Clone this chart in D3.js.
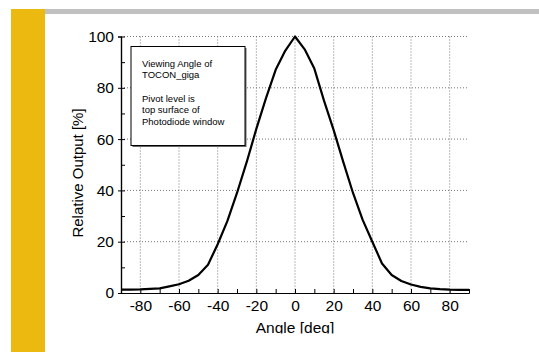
<!DOCTYPE html>
<html>
<head>
<meta charset="utf-8">
<script src="https://cdn.jsdelivr.net/npm/d3@7"></script>
<style>
  body { margin: 0; background: #fff; }
  svg { display: block; font-family: "Liberation Sans", Arial, sans-serif; }
</style>
</head>
<body>
<svg width="539" height="352"></svg>
<script>
// angle in degrees, relative output in %
let angles = [-90, -85, -80, -75, -70, -65, -60, -55, -50, -45, -40, -35, -30, -25, -20, -15, -10, -5,
              0, 5, 10, 15, 20, 25, 30, 35, 40, 45, 50, 55, 60, 65, 70, 75, 80, 85, 90];
let outputs = [1.3, 1.3, 1.4, 1.6, 1.8, 2.6, 3.4, 4.8, 7, 11, 19, 28, 39, 51, 64, 76, 87, 94.5,
               100, 95, 87.5, 75, 63.5, 51, 39, 28.5, 20, 11.5, 7, 4.7, 3.3, 2.4, 1.8, 1.5, 1.3, 1.2, 1.2];
let xTicks = [-80, -60, -40, -20, 0, 20, 40, 60, 80];
let yTicks = [0, 20, 40, 60, 80, 100];
let noteLines = ["Viewing Angle of", "TOCON_giga", "", "Pivot level is", "top surface of", "Photodiode window"];

let data = angles.map((a, i) => ({angle: a, value: outputs[i]}));

let margin = {top: 36.5, left: 121, right: 70, bottom: 59};
let width = 539 - margin.left - margin.right;
let height = 352 - margin.top - margin.bottom;

let svg = d3.select("svg");

// slide decoration
svg.append("rect").attr("x", 11).attr("y", 9).attr("width", 34).attr("height", 343).attr("fill", "#ebb910");
svg.append("rect").attr("x", 45).attr("y", 9).attr("width", 494).attr("height", 5).attr("fill", "#c0c0c0");

let xScale = d3.scaleLinear().domain([-90, 90]).range([0, width]);
let yScale = d3.scaleLinear().domain([0, 100]).range([height, 0]);

let g = svg.append("g").attr("transform", `translate(${margin.left}, ${margin.top})`);

// dotted grid
g.selectAll(".vgrid").data(xTicks).enter().append("line")
  .attr("x1", d => xScale(d)).attr("x2", d => xScale(d))
  .attr("y1", 0).attr("y2", height)
  .attr("stroke", "#777").attr("stroke-width", 1).attr("stroke-dasharray", "1,2");
g.selectAll(".hgrid").data(yTicks.filter(d => d > 0)).enter().append("line")
  .attr("x1", 0).attr("x2", width)
  .attr("y1", d => yScale(d)).attr("y2", d => yScale(d))
  .attr("stroke", "#777").attr("stroke-width", 1).attr("stroke-dasharray", "1,2");

// plain hyphen for negatives, like the original
let fmt = d => String(d);

// axes: minor ticks inside every 10
let xAxis = g.append("g").attr("transform", `translate(0, ${height})`)
  .call(d3.axisBottom(xScale).tickValues(d3.range(-90, 91, 10)).tickSizeInner(-4).tickSizeOuter(0).tickFormat(""));
xAxis.append("g").call(d3.axisBottom(xScale).tickValues(xTicks).tickSize(0).tickPadding(7).tickFormat(fmt));
let yAxis = g.append("g")
  .call(d3.axisLeft(yScale).tickValues(d3.range(0, 101, 10)).tickSizeInner(-4).tickSizeOuter(0).tickFormat(""));
yAxis.append("g").call(d3.axisLeft(yScale).tickValues(yTicks).tickSize(3).tickPadding(4).tickFormat(fmt));

svg.selectAll(".tick text").attr("font-size", 15.5).attr("fill", "#000").attr("font-family", "Liberation Sans, Arial, sans-serif");
svg.selectAll(".domain").attr("stroke", "#000").attr("stroke-width", 1.2);
svg.selectAll(".tick line").attr("stroke", "#000");

// curve
let line = d3.line().x(d => xScale(d.angle)).y(d => yScale(d.value));
g.append("path").datum(data)
  .attr("d", line).attr("fill", "none").attr("stroke", "#000")
  .attr("stroke-width", 2.2).attr("stroke-linejoin", "round");

// note box
let note = g.append("g").attr("transform", "translate(10, 10)");
note.append("rect").attr("x", 1.5).attr("y", 1.5).attr("width", 114).attr("height", 99).attr("fill", "#666");
note.append("rect").attr("x", 0).attr("y", 0).attr("width", 114).attr("height", 99)
  .attr("fill", "#fff").attr("stroke", "#000").attr("stroke-width", 1);
note.selectAll("text").data(noteLines).enter().append("text")
  .attr("x", 11).attr("y", (d, i) => 20 + i * 11.7)
  .attr("font-size", 9.5).text(d => d);

// axis titles
svg.append("defs").append("clipPath").attr("id", "cut")
  .append("rect").attr("x", 0).attr("y", 0).attr("width", 539).attr("height", 333.5);
svg.append("text")
  .attr("x", margin.left + xScale(0)).attr("y", 332.5)
  .attr("text-anchor", "middle").attr("font-size", 15.5)
  .attr("clip-path", "url(#cut)")
  .text("Angle [deg]");
svg.append("text")
  .attr("transform", "translate(83, 173) rotate(-90)")
  .attr("text-anchor", "middle").attr("font-size", 15)
  .text("Relative Output [%]");
</script>
</body>
</html>
